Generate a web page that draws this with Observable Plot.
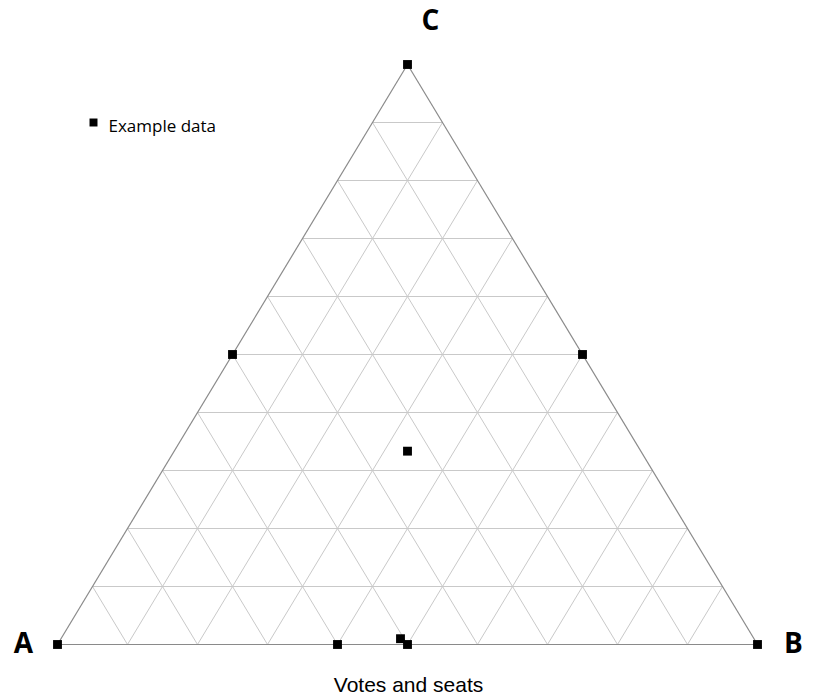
<!DOCTYPE html>
<html>
<head>
<meta charset="utf-8">
<script src="https://cdn.jsdelivr.net/npm/d3@7"></script>
<script src="https://cdn.jsdelivr.net/npm/@observablehq/plot@0.6"></script>
<style>
  html, body { margin: 0; padding: 0; background: #fff; }
  #chart svg { display: block; }
</style>
</head>
<body>
<div id="chart"></div>
<script>
// ---- Data (ternary compositions a + b + c = 1) ----
const seriesName = "Example data";
const pointA = [1, 0.5, 0.6, 0.5, 0.505, 0, 0, 1/3, 0];
const pointB = [0, 0, 0.4, 0.5, 0.485, 1, 0.5, 1/3, 0];
const pointC = [0, 0.5, 0, 0, 0.01, 0, 0.5, 1/3, 1];

const gridTicks = [0.1, 0.2, 0.3, 0.4, 0.5, 0.6, 0.7, 0.8, 0.9];
const vertexLabels = ["A", "B", "C"];
const vertexComps = [[1, 0, 0], [0, 1, 0], [0, 0, 1]];
const axisTitle = "Votes and seats";

// ternary -> cartesian (x in [0,1], y in [0,1])
const tx = (a, b, c) => b + c / 2;
const ty = (a, b, c) => c;

const points = pointA.map((a, i) => ({a, b: pointB[i], c: pointC[i]}));

// grid segments: constant a, constant b, constant c
const grid = [];
for (const t of gridTicks) {
  grid.push({p: [1 - t, 0, t], q: [0, 1 - t, t]});
  grid.push({p: [t, 1 - t, 0], q: [t, 0, 1 - t]});
  grid.push({p: [1 - t, t, 0], q: [0, t, 1 - t]});
}
const edges = [
  {p: vertexComps[0], q: vertexComps[1]},
  {p: vertexComps[1], q: vertexComps[2]},
  {p: vertexComps[2], q: vertexComps[0]}
];
const labels = vertexLabels.map((l, i) => ({label: l, comp: vertexComps[i]}));
const labelDx = [-34, 36, 23];
const labelDy = [0, 0, -43];

const plot = Plot.plot({
  width: 816,
  height: 698,
  margin: 0,
  style: {background: "#fff", overflow: "visible"},
  x: {domain: [0, 1], range: [57, 757], axis: null},
  y: {domain: [0, 1], range: [644, 64], axis: null},
  marks: [
    Plot.link(grid, {
      x1: d => tx(...d.p), y1: d => ty(...d.p),
      x2: d => tx(...d.q), y2: d => ty(...d.q),
      stroke: "#c9c9c9", strokeWidth: 1
    }),
    Plot.link(edges, {
      x1: d => tx(...d.p), y1: d => ty(...d.p),
      x2: d => tx(...d.q), y2: d => ty(...d.q),
      stroke: "#8a8a8a", strokeWidth: 1.2
    }),
    Plot.dot(points, {
      x: d => tx(d.a, d.b, d.c), y: d => ty(d.a, d.b, d.c),
      symbol: "square", r: 5, fill: "#000", stroke: "none"
    }),
    ...labels.map((d, i) => Plot.text([d], {
      x: e => tx(...e.comp), y: e => ty(...e.comp), text: "label",
      dx: labelDx[i], dy: labelDy[i],
      fontSize: 28, fontWeight: "bold", fontFamily: "Open Sans", fill: "#000"
    })),
    Plot.text([axisTitle], {
      frameAnchor: "bottom", text: d => d, dy: -7,
      fontSize: 21, fontFamily: "Liberation Sans", fill: "#000"
    }),
    Plot.dot([seriesName], {
      frameAnchor: "top-left", dx: 93, dy: 122,
      symbol: "square", r: 4.5, fill: "#000", stroke: "none"
    }),
    Plot.text([seriesName], {
      frameAnchor: "top-left", dx: 108, dy: 119, text: d => d,
      textAnchor: "start", fontSize: 17, fontFamily: "Open Sans", fill: "#000"
    })
  ]
});
document.getElementById("chart").appendChild(plot);
</script>
</body>
</html>
